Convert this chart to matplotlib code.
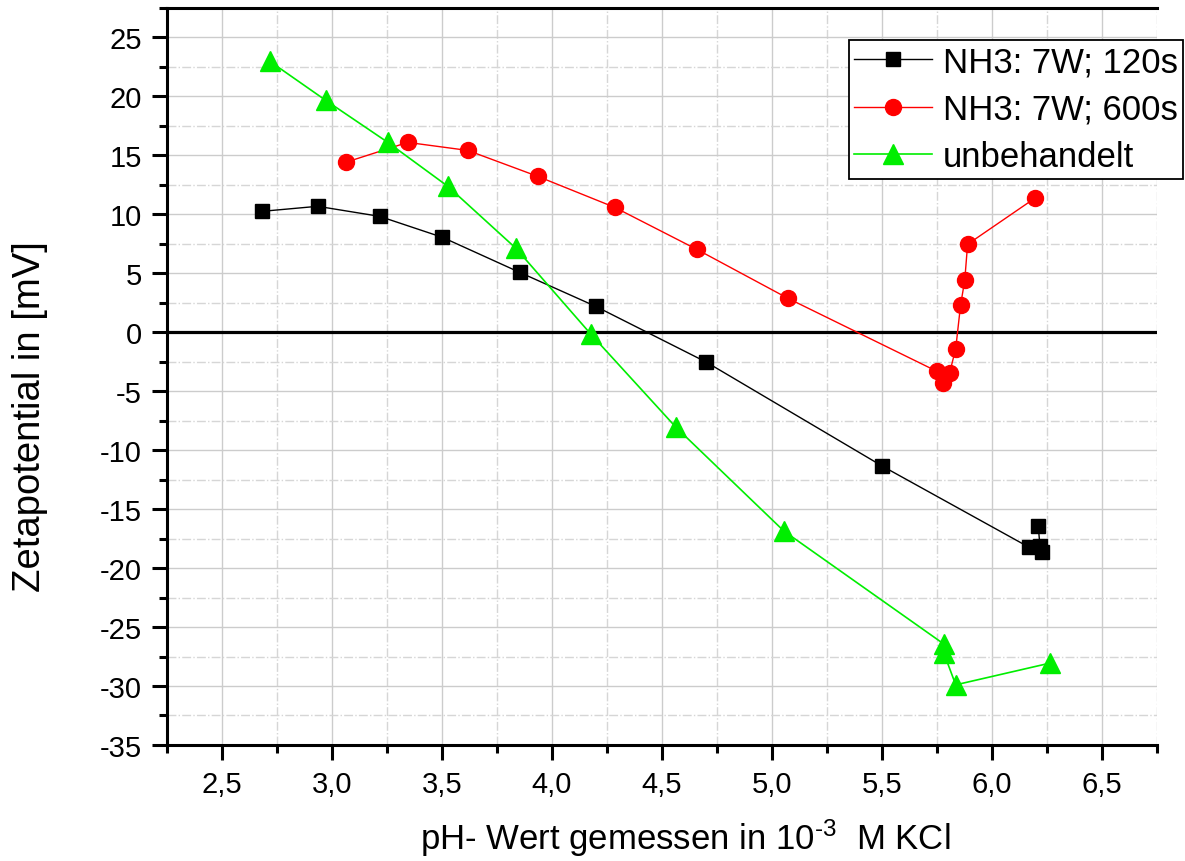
import matplotlib.pyplot as plt
from matplotlib.ticker import MultipleLocator, FuncFormatter

plt.rcParams['font.family'] = ['Liberation Sans', 'DejaVu Sans']
plt.rcParams['mathtext.fontset'] = 'custom'
plt.rcParams['mathtext.rm'] = 'Liberation Sans'
plt.rcParams['mathtext.it'] = 'Liberation Sans'

# NH3: 7W; 120s
ph_120 = [2.68, 2.935, 3.216, 3.502, 3.853, 4.198, 4.702, 5.502, 6.167, 6.227, 6.218, 6.21]
zeta_120 = [10.25, 10.68, 9.83, 8.05, 5.08, 2.2, -2.54, -11.36, -18.22, -18.64, -18.14, -16.44]

# NH3: 7W; 600s
ph_600 = [3.062, 3.344, 3.617, 3.935, 4.285, 4.658, 5.072, 5.749, 5.777, 5.807, 5.835, 5.857, 5.876, 5.889, 6.194]
zeta_600 = [14.41, 16.1, 15.42, 13.22, 10.59, 7.03, 2.88, -3.31, -4.32, -3.47, -1.38, 2.29, 4.41, 7.46, 11.36]

# unbehandelt
ph_unb = [2.718, 2.972, 3.254, 3.527, 3.836, 4.177, 4.563, 5.054, 5.781, 5.781, 5.835, 6.265]
zeta_unb = [22.97, 19.66, 16.1, 12.37, 7.12, -0.17, -8.05, -16.86, -26.44, -27.2, -29.9, -28.05]

fig = plt.figure(figsize=(11.85, 8.62), dpi=100)
ax = fig.add_axes([0.1409, 0.1346, 0.9764 - 0.1409, 0.9896 - 0.1346])

ax.plot(ph_120, zeta_120, color='black', lw=1.0, marker='s', ms=10.5,
        label='NH3: 7W; 120s', zorder=4)
ax.plot(ph_600, zeta_600, color='#ff0000', lw=1.0, marker='o', ms=11.5,
        label='NH3: 7W; 600s', zorder=4)
ax.plot(ph_unb, zeta_unb, color='#00ee00', lw=1.2, marker='^', ms=14,
        label='unbehandelt', zorder=4)

ax.axhline(0, color='black', lw=2.3, zorder=3)

ax.set_xlim(2.25, 6.75)
ax.set_ylim(-35, 27.5)

ax.xaxis.set_major_locator(MultipleLocator(0.5))
ax.xaxis.set_minor_locator(MultipleLocator(0.25))
ax.yaxis.set_major_locator(MultipleLocator(5))
ax.yaxis.set_minor_locator(MultipleLocator(2.5))
ax.xaxis.set_major_formatter(FuncFormatter(lambda v, p: f"{v:.1f}".replace('.', ',')))
ax.yaxis.set_major_formatter(FuncFormatter(lambda v, p: f"{v:.0f}"))

ax.grid(which='major', color='#cccccc', lw=1.0, ls='-')
ax.grid(which='minor', color='#d6d6d6', lw=1.0, ls='-.')
ax.set_axisbelow(True)

ax.spines['right'].set_visible(False)
for s in ['left', 'bottom', 'top']:
    ax.spines[s].set_linewidth(2.2)

ax.tick_params(which='major', length=11, width=2.2, labelsize=21, pad=7, top=False, right=False)
ax.tick_params(which='minor', length=6, width=2.2, top=False, right=False)

ax.set_xlabel('pH- Wert gemessen in 10$^{\\text{-3}}$  M KCl', fontsize=25, va='center')
ax.xaxis.set_label_coords(0.523, -0.125)
ax.set_ylabel('Zetapotential in [mV]', fontsize=27.5, va='center')
ax.yaxis.set_label_coords(-0.138, 0.447)

leg = fig.legend(loc='upper left', bbox_to_anchor=(0.7165, 0.9524), borderaxespad=0,
                 fontsize=25, fancybox=False, framealpha=1, edgecolor='black',
                 handlelength=2.25, labelspacing=0.42, borderpad=0.15, handletextpad=0.3)
leg.get_frame().set_linewidth(1.3)

fig.savefig('out.png', dpi=100)
